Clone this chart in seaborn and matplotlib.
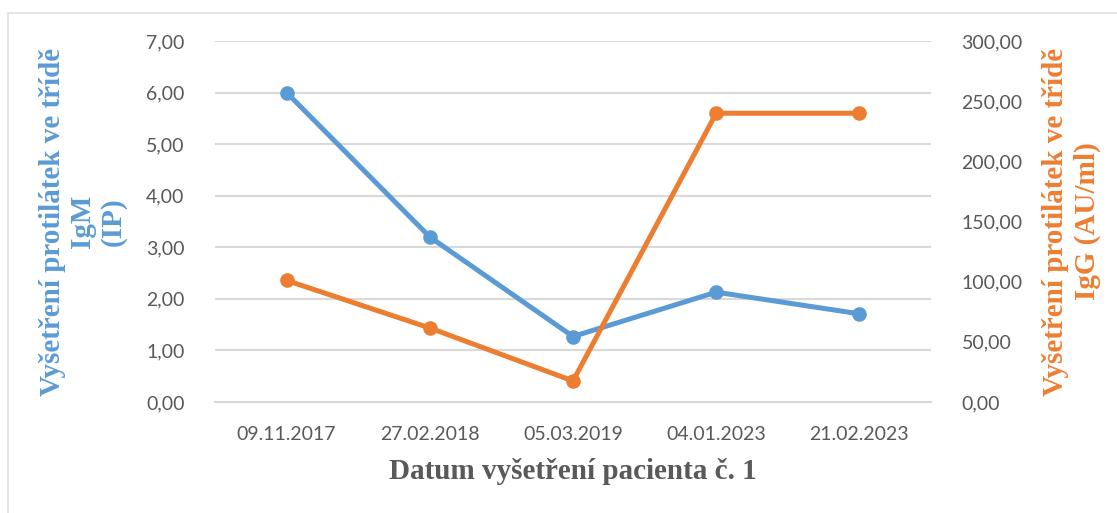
import matplotlib
matplotlib.use("Agg")
import matplotlib.pyplot as plt
import seaborn as sns
import pandas as pd
from matplotlib.patches import Rectangle
from matplotlib.ticker import FuncFormatter, FixedLocator

# data
datum = ["09.11.2017", "27.02.2018", "05.03.2019", "04.01.2023", "21.02.2023"]
igm = [6.0, 3.2, 1.27, 2.13, 1.71]
igg = [101.0, 61.5, 17.5, 240.0, 240.0]

df = pd.DataFrame({"datum": datum, "igm": igm, "igg": igg})

sns.set_style("white")
plt.rcParams["font.family"] = ["Lato", "DejaVu Sans"]

blue = "#5B9BD5"
orange = "#ED7D31"
grey_txt = "#595959"
grid_c = "#D9D9D9"

fig = plt.figure(figsize=(11.17, 5.13), dpi=100)
ax = fig.add_axes([0.1925, 0.2164, 0.641, 0.7036])
ax2 = ax.twinx()

# chart frame
fig.patches.append(Rectangle((8 / 1117, -0.1), 1.2, 1 - 13 / 513 + 0.1,
                             transform=fig.transFigure, fill=False,
                             edgecolor="#E0E0E0", lw=1.2))

ax.set_ylim(0, 7)
ax.set_yticks(range(0, 8))
ax.yaxis.grid(True, color=grid_c, lw=1.5)
ax.set_axisbelow(True)

sns.lineplot(data=df, x="datum", y="igm", ax=ax, sort=False, color=blue,
             lw=3.6, marker="o", markersize=10.5, markeredgewidth=0, zorder=3)
sns.lineplot(data=df, x="datum", y="igg", ax=ax2, sort=False, color=orange,
             lw=3.6, marker="o", markersize=10.5, markeredgewidth=0, zorder=3)

ax2.set_ylim(0, 300)
ax2.set_yticks(range(0, 301, 50))
ax.set_xlim(-0.5, len(datum) - 0.5)

fmt = FuncFormatter(lambda v, p: f"{v:.2f}".replace(".", ","))
ax.yaxis.set_major_formatter(fmt)
ax2.yaxis.set_major_formatter(fmt)

for a in (ax, ax2):
    for s in a.spines.values():
        s.set_visible(False)
ax.spines["bottom"].set_visible(True)
ax.spines["bottom"].set_color(grid_c)
ax.spines["bottom"].set_linewidth(1.5)

ax.tick_params(axis="y", length=0, pad=22, labelsize=14, labelcolor=grey_txt)
ax2.tick_params(axis="y", length=0, pad=22, labelsize=14, labelcolor=grey_txt)
ax.tick_params(axis="x", which="major", length=0, pad=17, labelsize=14,
               labelcolor=grey_txt)
ax.xaxis.set_minor_locator(FixedLocator([i - 0.5 for i in range(len(datum) + 1)]))
ax.tick_params(axis="x", which="minor", length=7, width=1.5, color=grid_c,
               direction="out")

serif = ["Liberation Serif", "DejaVu Serif"]
ax.set_xlabel("Datum vyšetření pacienta č. 1", family=serif, fontweight="bold",
              fontsize=21, color=grey_txt, labelpad=11)
ax.set_ylabel("Vyšetření protilátek ve třídě\nIgM\n(IP)", family=serif,
              fontweight="bold", fontsize=21, color=blue, labelpad=14,
              linespacing=1.15)
ax2.set_ylabel("Vyšetření protilátek ve třídě\nIgG (AU/ml)", family=serif,
               fontweight="bold", fontsize=21, color=orange, labelpad=14,
               linespacing=1.2)

fig.savefig("out.png", dpi=100)
